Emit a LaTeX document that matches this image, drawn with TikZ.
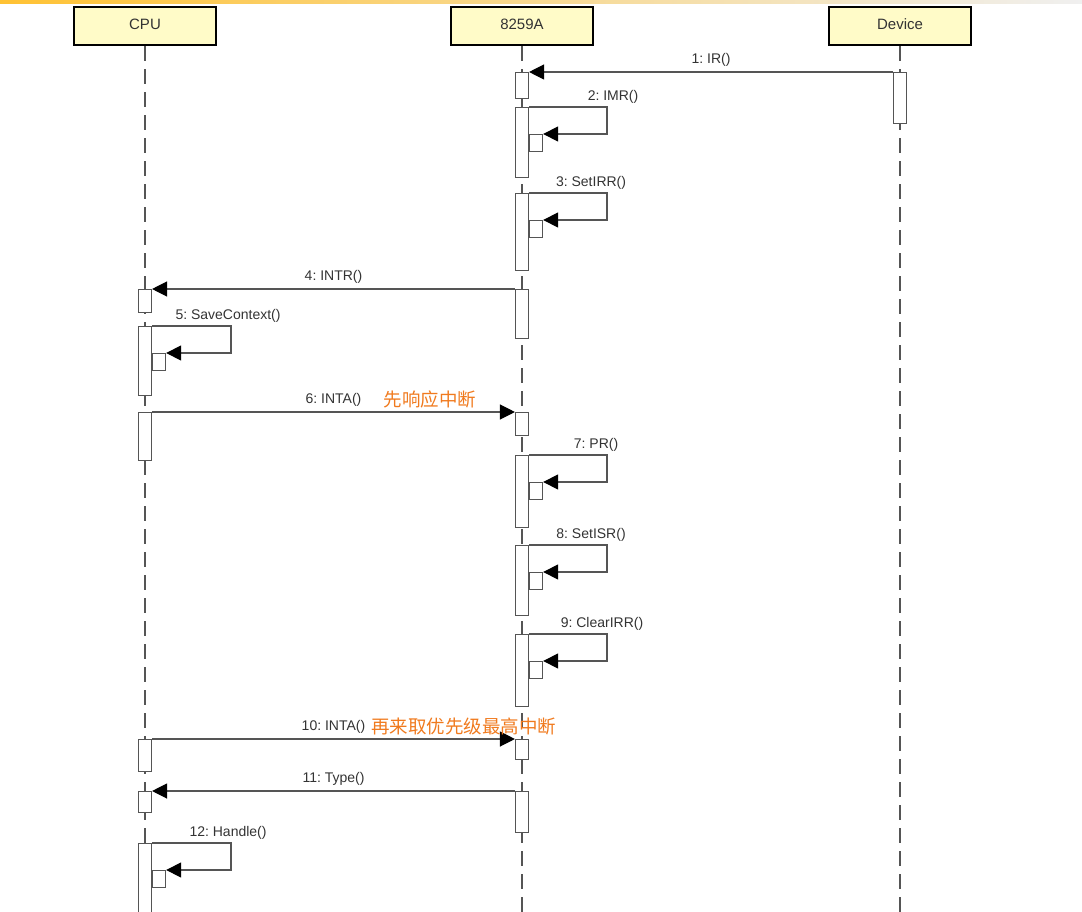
\documentclass[tikz,border=0pt]{standalone}
\usepackage{fontspec}
\setmainfont{Liberation Sans}
\newfontfamily\cjk{Noto Sans CJK SC}
\usetikzlibrary{arrows.meta,positioning}
\frenchspacing

\definecolor{headfill}{RGB}{255,251,200}
\definecolor{notecol}{RGB}{240,122,30}
\definecolor{linecol}{RGB}{85,85,85}

\begin{document}
\begin{tikzpicture}[x=1pt,y=-1pt,
	every node/.style={font=\fontsize{14}{16}\selectfont, text=black!80},
	head/.style={draw=black, line width=2.8pt, fill=headfill, minimum width=142pt, minimum height=38pt, inner sep=0pt, font=\fontsize{15}{17}\selectfont, text depth=3pt},
	lifeline/.style={linecol, line width=1.2pt, dash pattern=on 15pt off 8pt},
	actbar/.style={draw=linecol, line width=1.1pt, fill=white, minimum width=13pt, inner sep=0pt, anchor=north},
	msg/.style={linecol, line width=1.2pt, -{Triangle[length=15pt,width=15pt,black]}},
	note/.style={font=\cjk\fontsize{18.5}{20}\selectfont, text=notecol, inner sep=0pt}]
	\useasboundingbox (0,0) rectangle (1082,912);
	\shade[left color=orange!60!yellow!80, right color=gray!12] (0,0) rectangle (1082,4);
	% lifeline heads
	\node[head] (cpu) at (145,26) {CPU};
	\node[head] (pic) at (522,26) {8259A};
	\node[head] (dev) at (900,26) {Device};
	\coordinate (cpuend) at (145,912);
	\coordinate (picend) at (522,912);
	\coordinate (devend) at (900,912);
	\foreach \h in {cpu,pic,dev} {\draw[lifeline] (\h.south) -- (\h end);}
	% activation bars
	\node[actbar, minimum height=51pt] (d1) at (900,72) {};
	\foreach \n/\y/\h in {1/72/26, 4/289/49, 6/412/23, 10/739/20, 11/791/41} {\node[actbar, minimum height=\h pt] (a\n) at (522,\y) {};}
	\foreach \n/\y/\h in {1/289/23, 2/412/48, 3/739/32, 4/791/21} {\node[actbar, minimum height=\h pt] (c\n) at (145,\y) {};}
	% self calls
	\foreach \n/\lbl/\y/\h/\dx in {2/2: IMR()/107/70/84, 3/3: SetIRR()/193/77/62, 7/7: PR()/455/72/67, 8/8: SetISR()/545/70/62, 9/9: ClearIRR()/634/72/73} {
		\node[actbar, minimum height=\h pt] (o\n) at (522,\y) {};
		\node[actbar, anchor=north west, minimum height=17pt] (n\n) at ([yshift=-27pt]o\n.north east) {};
		\draw[msg] (o\n.north east) -- ++(78,0) |- (n\n.north east);
		\node[anchor=south, inner sep=1pt] at ([xshift=\dx pt, yshift=2pt]o\n.north east) {\lbl};
	}
	\foreach \n/\lbl/\y/\h in {5/5: SaveContext()/326/69, 12/12: Handle()/843/69} {
		\node[actbar, minimum height=\h pt] (o\n) at (145,\y) {};
		\node[actbar, anchor=north west, minimum height=17pt] (n\n) at ([yshift=-27pt]o\n.north east) {};
		\draw[msg] (o\n.north east) -- ++(79,0) |- (n\n.north east);
		\node[anchor=south, inner sep=1pt] at ([xshift=76pt, yshift=2pt]o\n.north east) {\lbl};
	}
	% messages between lifelines
	\draw[msg] (d1.north west) -- node[above=2pt] {1: IR()} (a1.north east);
	\draw[msg] (a4.north west) -- node[above=2pt] {4: INTR()} (c1.north east);
	\draw[msg] (c2.north east) -- node[above=2pt] (l6) {6: INTA()} (a6.north west);
	\draw[msg] (c3.north east) -- node[above=2pt] (l10) {10: INTA()} (a10.north west);
	\draw[msg] (a11.north west) -- node[above=2pt] {11: Type()} (c4.north east);
	\node[note, right=18pt of l6] (t6) {先响应中断};
	\node[note, right=2pt of l10] (t10) {再来取优先级最高中断};
\end{tikzpicture}
\end{document}
